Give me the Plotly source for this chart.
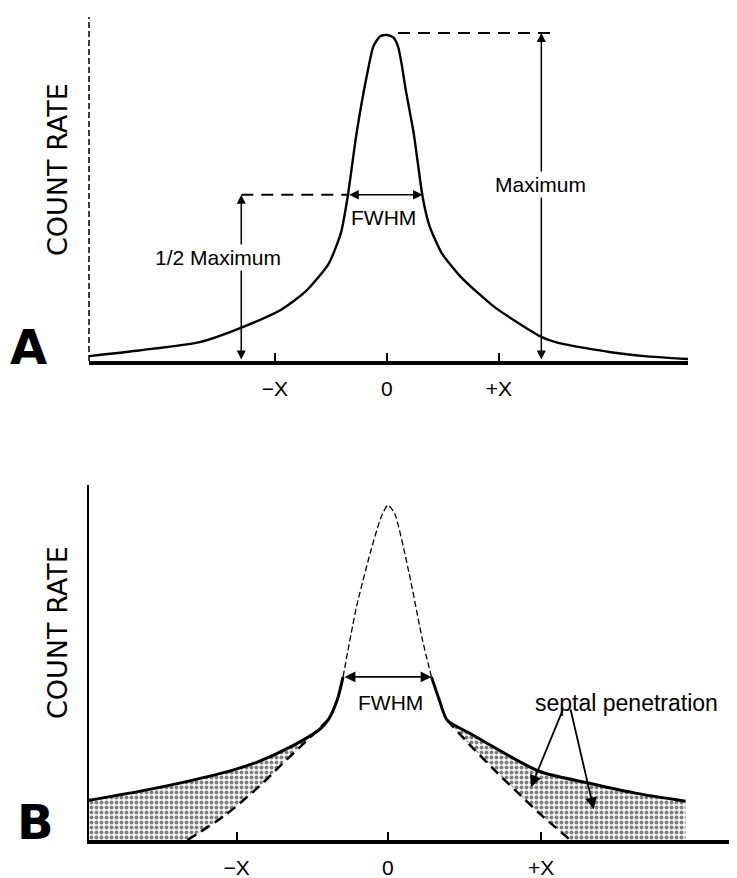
import plotly.graph_objects as go

# ---------------- data ----------------
# Panel A: point spread function (arbitrary position units, normalised count rate)
a_pos = [-2.66, -2.20, -1.67, -1.31, -0.94, -0.72, -0.52, -0.41, -0.35, -0.27,
         -0.17, -0.12, -0.06, 0.0, 0.06, 0.10, 0.13, 0.17, 0.24, 0.32,
         0.38, 0.49, 0.66, 0.96, 1.38, 1.54, 2.00, 2.30, 2.69]
a_count = [0.015, 0.033, 0.058, 0.101, 0.158, 0.215, 0.298, 0.393, 0.503, 0.699,
           0.890, 0.965, 0.996, 1.0, 0.992, 0.965, 0.915, 0.830, 0.699, 0.503,
           0.415, 0.331, 0.258, 0.166, 0.074, 0.055, 0.027, 0.015, 0.006]

# Panel B: PSF with septal penetration
b_left_tail_x = [-2.67, -2.21, -1.79, -1.37, -1.15, -0.87, -0.61, -0.53, -0.45, -0.40]
b_left_tail_y = [0.119, 0.146, 0.175, 0.210, 0.235, 0.278, 0.330, 0.360, 0.420, 0.487]
b_peak_x = [-0.40, -0.28, -0.15, -0.06, 0.0, 0.06, 0.19, 0.31, 0.39]
b_peak_y = [0.487, 0.696, 0.866, 0.964, 1.0, 0.976, 0.797, 0.597, 0.487]
b_right_tail_x = [0.39, 0.46, 0.53, 0.73, 1.15, 1.37, 1.79, 2.21, 2.66]
b_right_tail_y = [0.487, 0.418, 0.358, 0.319, 0.239, 0.203, 0.170, 0.140, 0.116]
# PSF without septal penetration (dashed)
b_left_dash_x = [-0.53, -0.73, -0.95, -1.15, -1.45, -1.79]
b_left_dash_y = [0.360, 0.295, 0.225, 0.160, 0.075, 0.0]
b_right_dash_x = [0.53, 0.73, 0.95, 1.15, 1.37, 1.63]
b_right_dash_y = [0.358, 0.285, 0.210, 0.145, 0.075, 0.0]

# tick labels
a_tickvals = [-1, 0, 1]
b_tickvals = [-1.35, 0, 1.37]
tick_text = ["\u2212X", "0", "+X"]

# annotation geometry (positions in axis units)
a_half_x = -1.30          # 1/2 maximum arrow
a_max_x = 1.38            # maximum arrow
a_fwhm = (-0.35, 0.32)
b_fwhm = (-0.40, 0.39)
b_pointer_tail = [(1.57, 0.394), (1.63, 0.394)]
b_pointer_head = [(1.28, 0.158), (1.84, 0.092)]

# page has an 8px body margin: figure drawn in a 729x870 box starting at (8, 8)
OFF = 8
W, H = 737 - OFF, 878 - OFF
def px(p):
    return (p - OFF) / W
def py(p):
    return 1 - (p - OFF) / H

FONT = "Liberation Sans"

fig = go.Figure()

# ---- Panel B shading (septal penetration) ----
left_fill_x = [b_left_tail_x[0]] + b_left_tail_x[:8] + b_left_dash_x + [b_left_tail_x[0]]
left_fill_y = [0] + b_left_tail_y[:8] + b_left_dash_y + [0]
right_fill_x = b_right_tail_x[2:] + [b_right_tail_x[-1]] + b_right_dash_x[::-1] + [b_right_tail_x[2]]
right_fill_y = b_right_tail_y[2:] + [0] + b_right_dash_y[::-1] + [b_right_tail_y[2]]
pattern = dict(shape=".", fgcolor="black", bgcolor="white", size=5, solidity=0.5)
for fx, fy in [(left_fill_x, left_fill_y), (right_fill_x, right_fill_y)]:
    fig.add_trace(go.Scatter(x=fx, y=fy, xaxis="x2", yaxis="y2", mode="lines",
                             fill="toself", fillcolor="rgba(0,0,0,0)", fillpattern=pattern,
                             line=dict(width=0), hoverinfo="skip", showlegend=False))

# ---- Panel A curve ----
fig.add_trace(go.Scatter(x=a_pos, y=a_count, mode="lines",
                         line=dict(color="black", width=2.4, shape="spline", smoothing=0.6),
                         showlegend=False, hoverinfo="skip"))

# ---- Panel B curves ----
for tx, ty in [(b_left_tail_x, b_left_tail_y), (b_right_tail_x, b_right_tail_y)]:
    fig.add_trace(go.Scatter(x=tx, y=ty, xaxis="x2", yaxis="y2", mode="lines",
                             line=dict(color="black", width=3, shape="spline", smoothing=0.7),
                             showlegend=False, hoverinfo="skip"))
fig.add_trace(go.Scatter(x=b_peak_x, y=b_peak_y, xaxis="x2", yaxis="y2", mode="lines",
                         line=dict(color="black", width=1.3, dash="6px,3px", shape="spline", smoothing=0.6),
                         showlegend=False, hoverinfo="skip"))
for dx, dy in [(b_left_dash_x, b_left_dash_y), (b_right_dash_x, b_right_dash_y)]:
    fig.add_trace(go.Scatter(x=dx, y=dy, xaxis="x2", yaxis="y2", mode="lines",
                             line=dict(color="black", width=2.5, dash="10px,6px", shape="spline", smoothing=0.8),
                             showlegend=False, hoverinfo="skip"))

a_peak = max(a_count)
a_half = a_peak / 2
b_half = b_peak_y[0]

shapes = [
    # dashed y-axis of panel A
    dict(type="line", xref="x domain", yref="y domain", x0=0, x1=0, y0=0, y1=1,
         line=dict(color="black", width=1.5, dash="6px,3px")),
    # Maximum dashed level
    dict(type="line", xref="x", yref="y", x0=0.10, x1=a_max_x + 0.08, y0=a_peak + 0.006, y1=a_peak + 0.006,
         line=dict(color="black", width=2, dash="12px,8px")),
    # 1/2 maximum dashed level
    dict(type="line", xref="x", yref="y", x0=a_half_x, x1=a_fwhm[0], y0=a_half + 0.01, y1=a_half + 0.01,
         line=dict(color="black", width=2, dash="12px,8px")),
]

ann = []
def arrow(x0, y0, x1, y1, xr, yr, both=True, width=1.5, head=2, size=1.2):
    ann.append(dict(x=x1, y=y1, ax=x0, ay=y0, xref=xr, yref=yr, axref=xr, ayref=yr,
                    text="", showarrow=True, arrowhead=head, startarrowhead=head,
                    arrowsize=size, startarrowsize=size, arrowwidth=width,
                    arrowside="end+start" if both else "end", arrowcolor="black",
                    standoff=0, startstandoff=0))

# Panel A arrows
arrow(a_half_x, 0, a_half_x, a_half + 0.01, "x", "y")
arrow(a_max_x, 0, a_max_x, a_peak + 0.006, "x", "y")
arrow(a_fwhm[0], a_half + 0.01, a_fwhm[1], a_half + 0.01, "x", "y", width=1.6)
# Panel B arrows
arrow(b_fwhm[0], b_half, b_fwhm[1], b_half, "x2", "y2", width=1.8)
for (tx, ty), (hx, hy) in zip(b_pointer_tail, b_pointer_head):
    arrow(tx, ty, hx, hy, "x2", "y2", both=False, width=1.8, head=2, size=1.3)

def text(t, x, y, xr, yr, size, family=FONT, **kw):
    d = dict(text=t, x=x, y=y, xref=xr, yref=yr, showarrow=False,
             xanchor="center", yanchor="middle",
             font=dict(family=family, size=size, color="black"))
    d.update(kw)
    ann.append(d)

text("1/2 Maximum", -1.51, 0.316, "x", "y", 21, bgcolor="white")
text("Maximum", 1.37, 0.54, "x", "y", 21, bgcolor="white")
text("FWHM", -0.03, 0.44, "x", "y", 21)
text("FWHM", 0.02, 0.41, "x2", "y2", 21)
text("septal penetration", 1.30, 0.41, "x2", "y2", 23, xanchor="left")

# panel letters and axis titles
text("<b>A</b>", px(28), py(347), "paper", "paper", 48, family="DejaVu Sans")
text("<b>B</b>", px(35), py(822), "paper", "paper", 48, family="DejaVu Sans")
text("COUNT RATE", px(57), py(170), "paper", "paper", 27, family="DejaVu Sans", textangle=-90)
text("COUNT RATE", px(57), py(633), "paper", "paper", 27, family="DejaVu Sans", textangle=-90)

axis_common = dict(showgrid=False, zeroline=False, linecolor="black", ticks="inside",
                   ticklen=8, tickwidth=2, tickcolor="black",
                   tickfont=dict(family=FONT, size=21, color="black"), ticklabelstandoff=6)

fig.update_layout(
    width=W, height=H, margin=dict(l=0, r=0, t=0, b=0),
    paper_bgcolor="white", plot_bgcolor="white", showlegend=False,
    xaxis=dict(domain=[px(89), px(688)], range=[-2.66, 2.69], anchor="y", showline=True,
               linewidth=3.5, tickvals=a_tickvals, ticktext=tick_text, **axis_common),
    yaxis=dict(domain=[py(361), py(17)], range=[0, 1.055], anchor="x",
               showline=False, showgrid=False, zeroline=False, showticklabels=False, ticks=""),
    xaxis2=dict(domain=[px(89), 1.0], range=[-2.67, 3.12], anchor="y2", showline=True,
                linewidth=3.5, tickvals=b_tickvals, ticktext=tick_text, **axis_common),
    yaxis2=dict(domain=[py(840), py(485)], range=[0, 1.06], anchor="x2",
                showline=True, linewidth=2, linecolor="black", showgrid=False, zeroline=False,
                showticklabels=False, ticks=""),
    shapes=shapes, annotations=ann,
)

fig.write_html("out.html")
